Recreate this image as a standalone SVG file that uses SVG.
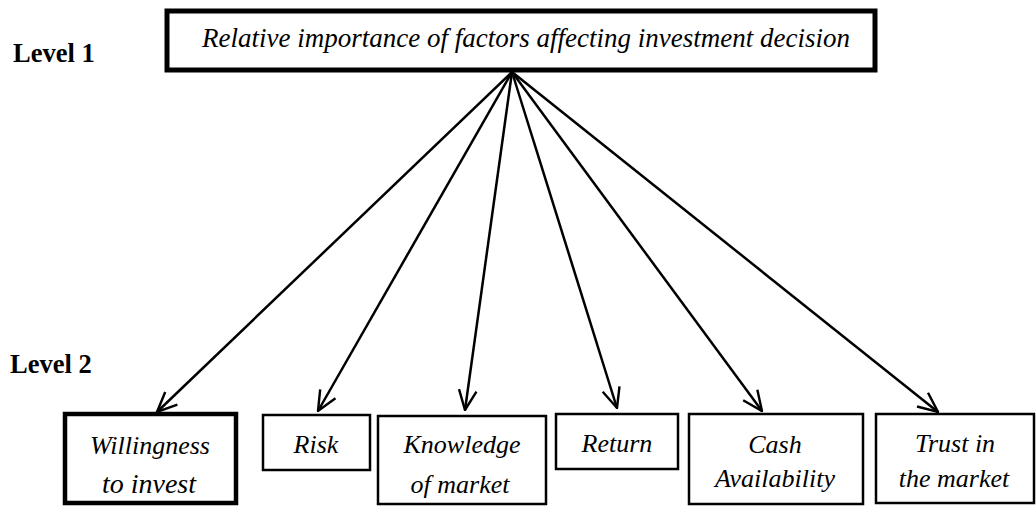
<svg xmlns="http://www.w3.org/2000/svg" width="1036" height="506" viewBox="0 0 1036 506">
<defs>
<style>
.lvl{font-family:'Liberation Serif','Times New Roman',serif;font-weight:bold;font-size:26.5px;fill:#000}
.t{font-family:'Liberation Serif','Times New Roman',serif;font-style:italic;font-size:26px;fill:#000;text-anchor:middle}
.box{fill:#fff;stroke:#000;stroke-width:2.5}
.thick{fill:#fff;stroke:#000;stroke-width:4.5}
.c{stroke:#000;stroke-width:2.5;fill:none;marker-end:url(#ah)}
</style>
<marker id="ah" viewBox="0 0 20 20" refX="19" refY="10" markerWidth="22" markerHeight="22" markerUnits="userSpaceOnUse" orient="auto">
<path d="M1,2 L19,10 L1,18" fill="none" stroke="#000" stroke-width="2.2"/>
</marker>
</defs>
<rect width="1036" height="506" fill="#fff"/>
<text class="lvl" x="13" y="62">Level 1</text>
<text class="lvl" x="10" y="373">Level 2</text>
<g id="top">
<rect x="167" y="11" width="708" height="59" fill="#fff" stroke="#000" stroke-width="5"/>
<text class="t" x="526" y="47" style="font-size:27px">Relative importance of factors affecting investment decision</text>
</g>
<g id="connectors">
<line class="c" x1="512" y1="72" x2="157" y2="412"/>
<line class="c" x1="512" y1="72" x2="318" y2="411"/>
<line class="c" x1="512" y1="72" x2="465" y2="410"/>
<line class="c" x1="512" y1="72" x2="617" y2="408"/>
<line class="c" x1="512" y1="72" x2="762" y2="411"/>
<line class="c" x1="512" y1="72" x2="938" y2="412"/>
</g>
<g id="willingness">
<rect class="thick" x="65" y="414" width="171" height="89"/>
<text class="t" x="150" y="454">Willingness</text>
<text class="t" x="149" y="493" style="font-size:28px">to invest</text>
</g>
<g id="risk">
<rect class="box" x="263" y="415" width="107" height="55"/>
<text class="t" x="316" y="453">Risk</text>
</g>
<g id="knowledge">
<rect class="box" x="378" y="416" width="168" height="88"/>
<text class="t" x="462" y="453">Knowledge</text>
<text class="t" x="460" y="493">of market</text>
</g>
<g id="return">
<rect class="box" x="556" y="414" width="122" height="55"/>
<text class="t" x="617" y="452">Return</text>
</g>
<g id="cash">
<rect class="box" x="689" y="414" width="174" height="90"/>
<text class="t" x="775" y="453">Cash</text>
<text class="t" x="775" y="487">Availability</text>
</g>
<g id="trust">
<rect class="box" x="876" y="414" width="158" height="89"/>
<text class="t" x="955" y="452">Trust in</text>
<text class="t" x="954" y="487">the market</text>
</g>
</svg>
